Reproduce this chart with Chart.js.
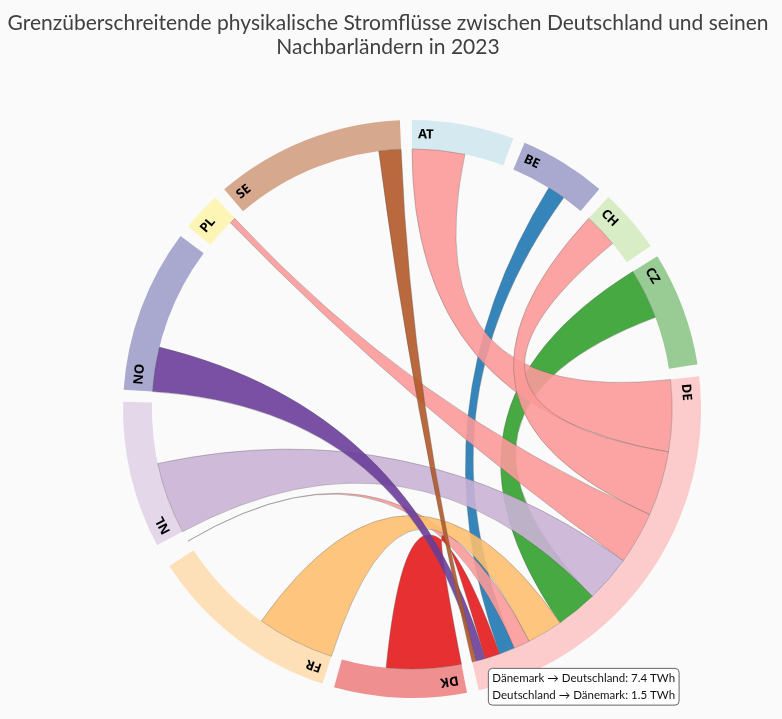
<!DOCTYPE html>
<html lang="de">
<head>
<meta charset="utf-8">
<title>Stromflüsse Deutschland 2023</title>
<script src="https://cdn.jsdelivr.net/npm/chart.js@4.4.1/dist/chart.umd.min.js"></script>
<style>
  html, body { margin: 0; padding: 0; background: #fafafa; }
  #wrap { position: relative; width: 782px; height: 719px; }
  #flowChart { position: absolute; left: 0; top: 0; }
  #title {
    position: absolute; top: 10px; left: 0; width: 776px;
    text-align: center; font: 21px Lato, sans-serif; line-height: 24px; color: #404040;
  }
</style>
</head>
<body>
<div id="wrap">
  <canvas id="flowChart" width="782" height="719"></canvas>
  <div id="title">Grenzüberschreitende physikalische Stromflüsse zwischen Deutschland und seinen<br>Nachbarländern in 2023</div>
</div>
<script>
// values in TWh
const countryCodes = ['AT', 'BE', 'CH', 'CZ', 'DE', 'DK', 'FR', 'LU', 'NL', 'NO', 'PL', 'SE'];
const countryNames = ['Österreich', 'Belgien', 'Schweiz', 'Tschechien', 'Deutschland', 'Dänemark',
                      'Frankreich', 'Luxemburg', 'Niederlande', 'Norwegen', 'Polen', 'Schweden'];
const exportsToGermany   = [5.2, 1.75, 3.4, 5.0, 0, 7.4, 7.7, 0, 7.1, 4.4, 0.6, 2.2];
const importsFromGermany = [7.1, 1.55, 6.4, 4.1, 0, 1.5, 3.5, 1.6, 4.6, 0.9, 5.2, 0.4];
// exports to other neighbours (no ribbon), larger resp. smaller than the flow to DE
const otherExportsBefore = [0, 3.9, 0, 0, 0, 0, 0, 0, 0, 0, 2.9, 14.7];
const otherExportsAfter  = [3.9, 2.1, 2.3, 5.2, 0, 4.4, 9.6, 0, 6.0, 10.2, 0, 0];

const ribbonColors = ['#a6cee3', '#1f78b4', '#b2df8a', '#33a02c', '#fb9a99', '#e31a1c',
                      '#fdbf6f', '#ff7f00', '#cab2d6', '#6a3d9a', '#ffff99', '#b15928'];
const arcColors = ['#d4e9f0', '#a9a9d0', '#d8edc5', '#99cc95', '#fccbcb', '#ef8f8f',
                   '#fde0b7', '#ffbf80', '#e4d7ea', '#a9a9cf', '#fdf5b5', '#d6a98f'];

document.addEventListener("DOMContentLoaded", function() {
    const DE = countryCodes.indexOf('DE');
    const sum = arr => arr.reduce((a, b) => a + b, 0);

    const arcTotals = countryCodes.map(function(code, i) {
        if (i === DE) return sum(importsFromGermany);
        return otherExportsBefore[i] + exportsToGermany[i] + otherExportsAfter[i];
    });

    // gap after every country, as a transparent slice
    const padDeg = 2.4;
    const padValue = padDeg / (360 - padDeg * countryCodes.length) * sum(arcTotals);

    const sliceData = [], sliceColors = [], sliceLabels = [];
    countryCodes.forEach(function(code, i) {
        sliceData.push(arcTotals[i], padValue);
        sliceColors.push(arcColors[i], 'rgba(0,0,0,0)');
        sliceLabels.push(code, '');
    });

    const others = countryCodes.map((c, i) => i).filter(i => i !== DE);
    // on the DE arc the biggest flow comes first
    const deOrder = others.slice().sort((a, b) => importsFromGermany[b] - importsFromGermany[a]);
    // ribbon colour = side with the bigger flow
    const sourceOf = i => exportsToGermany[i] >= importsFromGermany[i] ? i : DE;
    const drawOrder = others.slice().sort((a, b) => (sourceOf(a) - sourceOf(b)) || (a - b));

    function chordLayout(chart) {
        const arcs = chart.getDatasetMeta(0).data;
        const deArc = arcs[DE * 2];
        const deK = (deArc.endAngle - deArc.startAngle) / arcTotals[DE];
        const chords = {};
        let pos = deArc.startAngle;
        deOrder.forEach(function(i) {
            chords[i] = {t0: pos, t1: pos + importsFromGermany[i] * deK};
            pos = chords[i].t1;
        });
        others.forEach(function(i) {
            const arc = arcs[i * 2];
            const k = arcTotals[i] ? (arc.endAngle - arc.startAngle) / arcTotals[i] : 0;
            const c = chords[i];
            c.s0 = arc.startAngle + otherExportsBefore[i] * k;
            c.s1 = c.s0 + exportsToGermany[i] * k;
            c.x = arc.x;
            c.y = arc.y;
            c.r = arc.innerRadius;
        });
        return chords;
    }

    const chordPlugin = {
        id: 'chordRibbons',
        afterDatasetsDraw(chart) {
            const ctx = chart.ctx;
            const chords = chordLayout(chart);
            drawOrder.forEach(function(i) {
                const c = chords[i];
                const px = a => c.x + c.r * Math.cos(a);
                const py = a => c.y + c.r * Math.sin(a);
                ctx.save();
                ctx.beginPath();
                ctx.moveTo(px(c.s0), py(c.s0));
                ctx.arc(c.x, c.y, c.r, c.s0, c.s1);
                ctx.quadraticCurveTo(c.x, c.y, px(c.t0), py(c.t0));
                ctx.arc(c.x, c.y, c.r, c.t0, c.t1);
                ctx.quadraticCurveTo(c.x, c.y, px(c.s0), py(c.s0));
                ctx.closePath();
                ctx.globalAlpha = 0.9;
                ctx.fillStyle = ribbonColors[sourceOf(i)];
                ctx.fill();
                ctx.globalAlpha = 1;
                ctx.lineWidth = 0.6;
                ctx.strokeStyle = 'rgba(90,90,90,0.55)';
                ctx.stroke();
                ctx.restore();
            });

            const arcs = chart.getDatasetMeta(0).data;
            ctx.save();
            ctx.font = 'bold 13px "Noto Sans", sans-serif';
            ctx.fillStyle = '#000';
            ctx.textAlign = 'left';
            ctx.textBaseline = 'middle';
            countryCodes.forEach(function(code, i) {
                if (!arcTotals[i]) return;
                const arc = arcs[i * 2];
                const r = (arc.innerRadius + arc.outerRadius) / 2;
                ctx.save();
                ctx.translate(arc.x, arc.y);
                ctx.rotate(arc.startAngle + 6 / r + Math.PI / 2);
                ctx.fillText(code, 0, -r);
                ctx.restore();
            });
            ctx.restore();
        }
    };

    Chart.Tooltip.positioners.ribbonEnd = function(items) {
        if (!items.length) return false;
        const i = items[0].index / 2;
        const c = chordLayout(this.chart)[i];
        const mid = (c.t0 + c.t1) / 2;
        return {x: c.x + c.r * Math.cos(mid), y: c.y + c.r * Math.sin(mid)};
    };

    const ctx = document.getElementById('flowChart').getContext('2d');
    const chart = new Chart(ctx, {
        type: 'doughnut',
        data: {
            labels: sliceLabels,
            datasets: [{
                data: sliceData,
                backgroundColor: sliceColors,
                borderWidth: 0,
                hoverOffset: 0
            }]
        },
        options: {
            responsive: false,
            animation: false,
            events: [],
            cutout: '90%',
            layout: {
                padding: {top: 120, left: 42, right: 0, bottom: 21}
            },
            plugins: {
                legend: {display: false},
                title: {display: false},
                tooltip: {
                    position: 'ribbonEnd',
                    xAlign: 'left',
                    yAlign: 'top',
                    caretSize: 0,
                    caretPadding: 12,
                    backgroundColor: '#ffffff',
                    borderColor: '#666',
                    borderWidth: 1,
                    cornerRadius: 4,
                    bodyColor: '#111',
                    bodyFont: {family: 'Lato', size: 11.5, lineHeight: 1.25},
                    bodySpacing: 2,
                    padding: {top: 3, bottom: 3, left: 4, right: 4},
                    displayColors: false,
                    callbacks: {
                        title: () => '',
                        label: function(item) {
                            const i = item.dataIndex / 2;
                            return [
                                countryNames[i] + ' → Deutschland: ' + exportsToGermany[i].toFixed(1) + ' TWh',
                                'Deutschland → ' + countryNames[i] + ': ' + importsFromGermany[i].toFixed(1) + ' TWh'
                            ];
                        }
                    }
                }
            }
        },
        plugins: [chordPlugin]
    });

    chart.tooltip.setActiveElements([{datasetIndex: 0, index: countryCodes.indexOf('DK') * 2}], {x: 0, y: 0});
    chart.update();
});
</script>
</body>
</html>
